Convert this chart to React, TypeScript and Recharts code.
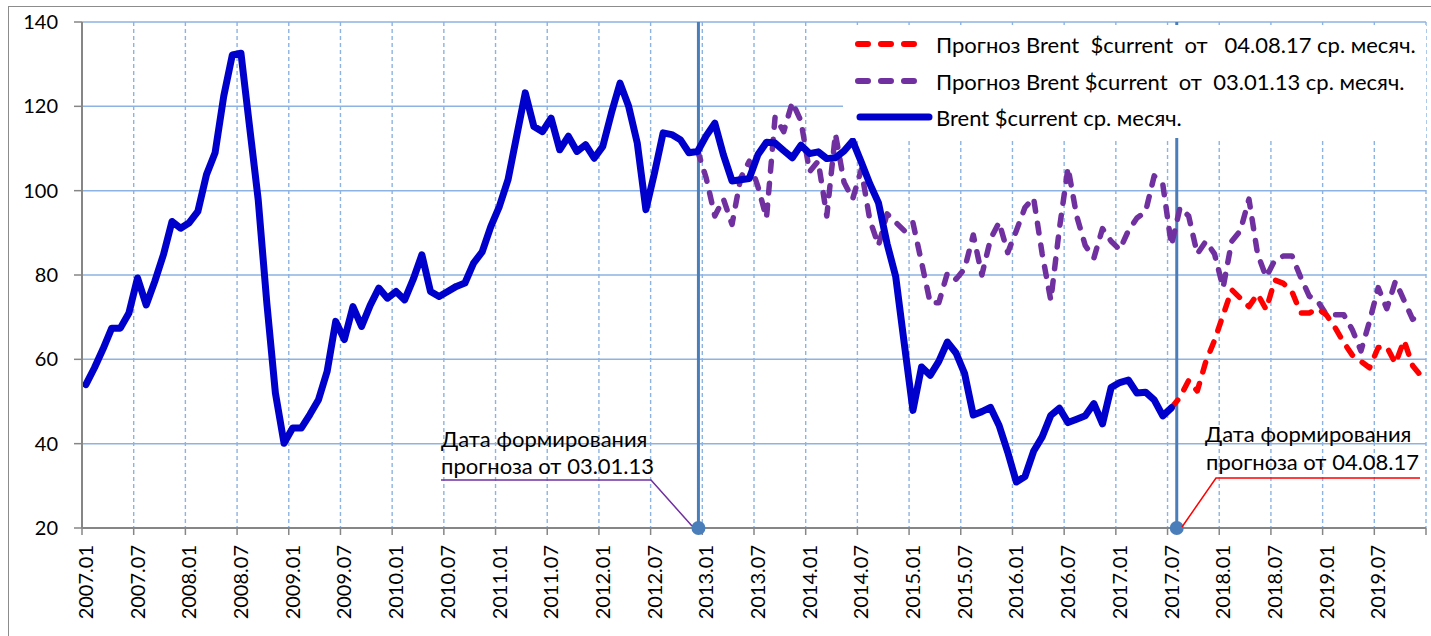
import React from 'react';
import { LineChart, Line, XAxis, YAxis, CartesianGrid, ReferenceLine, ReferenceDot } from 'recharts';

// Tick labels on the month axis (every 6 months; last gridline 2020.01 unlabeled)
const tickLabels = [
  '2007.01', '2007.07', '2008.01', '2008.07', '2009.01', '2009.07', '2010.01', '2010.07',
  '2011.01', '2011.07', '2012.01', '2012.07', '2013.01', '2013.07', '2014.01', '2014.07',
  '2015.01', '2015.07', '2016.01', '2016.07', '2017.01', '2017.07', '2018.01', '2018.07',
  '2019.01', '2019.07', '',
];
const yTicks = [20, 40, 60, 80, 100, 120, 140];

// Brent $current monthly average, 2007.01 .. 2017.07
const brentActual = [
  54.0, 58.0, 62.5, 67.4, 67.4, 71.0, 79.3, 72.9, 78.5, 84.8, 92.7, 91.1,
  92.4, 95.1, 103.8, 109.0, 122.4, 132.2, 132.6, 115.2, 97.9, 73.4, 52.0, 40.1,
  43.7, 43.7, 46.9, 50.4, 57.1, 69.0, 64.7, 72.5, 67.8, 72.8, 76.9, 74.5,
  76.1, 74.1, 79.0, 84.8, 76.1, 74.9, 76.1, 77.3, 78.1, 82.8, 85.5, 91.5,
  96.3, 102.6, 112.9, 123.2, 115.2, 114.0, 117.2, 109.7, 112.9, 109.3, 110.9, 107.7,
  110.5, 118.4, 125.5, 120.0, 111.3, 95.5, 104.2, 113.7, 113.3, 112.1, 109.0, 109.3,
  113.0, 116.0, 108.5, 102.3, 102.6, 102.9, 108.5, 111.5, 111.3, 109.5, 107.8, 110.8,
  108.8, 109.2, 107.6, 107.8, 109.4, 111.8, 106.8, 101.6, 97.1, 87.4, 79.6, 63.6,
  47.9, 58.2, 56.2, 59.5, 64.1, 61.5, 56.6, 46.8, 47.6, 48.6, 44.3, 38.0,
  30.9, 32.2, 38.2, 41.6, 46.7, 48.4, 45.0, 45.8, 46.6, 49.5, 44.7, 53.3,
  54.5, 55.1, 52.0, 52.2, 50.4, 46.6, 48.5,
];

// Forecast from 03.01.13, starting 2012.12
const forecast13Start = 71;
const forecast13 = [
  109.5, 103.0, 94.0, 98.0, 92.0, 103.0, 107.0, 101.0, 93.5, 117.5, 114.0, 121.0,
  116.5, 104.5, 107.0, 94.0, 113.5, 102.0, 98.0, 105.0, 93.0, 87.0, 94.5, 92.5,
  90.5, 92.4, 83.0, 73.4, 73.4, 80.5, 79.0, 81.5, 89.5, 80.0, 88.5, 92.5,
  85.3, 90.5, 96.0, 98.3, 85.0, 74.0, 91.0, 105.5, 94.0, 87.0, 84.0, 91.0,
  88.0, 86.0, 90.5, 93.5, 95.0, 103.5, 101.5, 87.0, 96.0, 94.0, 85.0, 88.0,
  85.0, 77.0, 88.0, 90.5, 98.0, 85.0, 79.5, 83.5, 84.5, 84.5, 79.5, 75.0,
  73.7, 70.6, 70.6, 70.6, 67.0, 62.0, 69.0, 77.0, 72.0, 78.5, 74.0, 69.5,
  70.6,
];

// Forecast from 04.08.17, starting 2017.07
const forecast17Start = 126;
const forecast17 = [
  48.5, 51.0, 55.0, 52.5, 59.5, 64.5, 70.5, 76.5, 74.5, 72.5, 75.5, 71.8,
  78.8, 78.0, 76.0, 71.0, 71.0, 72.0, 70.5, 67.5, 64.0, 61.0, 59.5, 58.0,
  62.8, 63.0, 59.0, 64.5, 58.5, 56.0,
];

const MONTHS = 156;
const MID = 0.45; // values sit mid-month on the date axis

const data = Array.from({ length: MONTHS }, (_, i) => ({
  x: i + MID,
  brent: i < brentActual.length ? brentActual[i] : null,
  f13: i >= forecast13Start && i - forecast13Start < forecast13.length ? forecast13[i - forecast13Start] : null,
  f17: i >= forecast17Start && i - forecast17Start < forecast17.length ? forecast17[i - forecast17Start] : null,
}));

const xTicks = tickLabels.map((_, k) => k * 6);

const FONT = 'Lato, "Open Sans", sans-serif';
const BLUE = '#0000CC';
const PURPLE = '#7030A0';
const RED = '#FF0000';
const REF = '#4A7EBB';
const GRID = '#8DB3E2';
const AXIS = '#868686';

const XTick = (props: any) => {
  const { x, y, payload } = props;
  const label = tickLabels[Math.round(payload.value / 6)] || '';
  return (
    <text
      x={x + 11}
      y={y + 8}
      transform={`rotate(-90, ${x + 11}, ${y + 8})`}
      textAnchor="end"
      fontFamily={FONT}
      fontSize={20}
      fill="#000"
    >
      {label}
    </text>
  );
};

export default function App() {
  return (
    <div style={{ position: 'absolute', left: 0, top: 0, width: 1431, height: 636, background: '#fff', overflow: 'hidden' }}>
      <div style={{ position: 'absolute', left: 8, top: 6, width: 1440, height: 660, borderLeft: '1px solid #8c8c8c', borderTop: '1px solid #8c8c8c' }} />
      <div style={{ position: 'absolute', left: 0, top: 0 }}>
        <LineChart width={1431} height={636} data={data} margin={{ top: 22, right: 5, left: 0, bottom: 0 }}>
          <CartesianGrid vertical={false} stroke={GRID} strokeWidth={1.5} />
          <CartesianGrid horizontal={false} stroke={GRID} strokeWidth={1.4} strokeDasharray="4 3" />
          <XAxis
            dataKey="x"
            type="number"
            domain={[0, MONTHS]}
            ticks={xTicks}
            interval={0}
            height={108}
            axisLine={{ stroke: AXIS, strokeWidth: 2 }}
            tickLine={{ stroke: AXIS, strokeWidth: 1.5 }}
            tickSize={7}
            tick={<XTick />}
            allowDataOverflow
          />
          <YAxis
            type="number"
            domain={[20, 140]}
            ticks={yTicks}
            width={82}
            axisLine={{ stroke: AXIS, strokeWidth: 2 }}
            tickLine={{ stroke: AXIS, strokeWidth: 1.5 }}
            tickSize={8}
            tickMargin={16}
            tick={{ fill: '#000', fontSize: 20, fontFamily: FONT }}
            allowDataOverflow
          />
          <ReferenceLine x={71.55} stroke={REF} strokeWidth={3} />
          <ReferenceLine x={127.07} stroke={REF} strokeWidth={3} />
          <Line
            dataKey="f13"
            stroke={PURPLE}
            strokeWidth={5.5}
            strokeDasharray="10 12"
            strokeLinecap="round"
            strokeLinejoin="round"
            dot={false}
            isAnimationActive={false}
          />
          <Line
            dataKey="f17"
            stroke={RED}
            strokeWidth={5.5}
            strokeDasharray="10 12"
            strokeLinecap="round"
            strokeLinejoin="round"
            dot={false}
            isAnimationActive={false}
          />
          <Line
            dataKey="brent"
            stroke={BLUE}
            strokeWidth={7}
            strokeLinecap="round"
            strokeLinejoin="round"
            dot={false}
            isAnimationActive={false}
          />
          <ReferenceDot x={71.55} y={20} r={7} fill={REF} stroke="none" ifOverflow="visible" />
          <ReferenceDot x={127.07} y={20} r={7} fill={REF} stroke="none" ifOverflow="visible" />
        </LineChart>
      </div>
      {/* Annotations */}
      <svg width={1431} height={636} style={{ position: 'absolute', left: 0, top: 0, pointerEvents: 'none' }}>
        <polyline points="692,526 651,480 441,480" fill="none" stroke={PURPLE} strokeWidth={1.5} />
        <text x={441} y={447} fontFamily={FONT} fontSize={22} fill="#000">Дата формирования</text>
        <text x={441} y={474} fontFamily={FONT} fontSize={22} fill="#000">прогноза от 03.01.13</text>
        <polyline points="1182,527 1216,478 1420,478" fill="none" stroke={RED} strokeWidth={1.5} />
        <text x={1205} y={442} fontFamily={FONT} fontSize={22} fill="#000">Дата формирования</text>
        <text x={1206} y={470} fontFamily={FONT} fontSize={22} fill="#000">прогноза от 04.08.17</text>
      </svg>
      {/* Legend */}
      <div style={{ position: 'absolute', left: 843, top: 25, width: 583, height: 113, background: '#fff' }}>
        <svg width={583} height={113}>
          <line x1={15} x2={79} y1={19} y2={19} stroke={RED} strokeWidth={6} strokeDasharray="10 13" strokeLinecap="round" />
          <text x={93} y={19} dominantBaseline="central" fontFamily={FONT} fontSize={22} fill="#000" style={{ whiteSpace: 'pre' }}>
            {'Прогноз Brent  $current  от   04.08.17 ср. месяч.'}
          </text>
          <line x1={15} x2={79} y1={56} y2={56} stroke={PURPLE} strokeWidth={6} strokeDasharray="10 13" strokeLinecap="round" />
          <text x={93} y={56} dominantBaseline="central" fontFamily={FONT} fontSize={22} fill="#000" style={{ whiteSpace: 'pre' }}>
            {'Прогноз Brent $current  от  03.01.13 ср. месяч.'}
          </text>
          <line x1={17} x2={86} y1={92} y2={92} stroke={BLUE} strokeWidth={7} strokeLinecap="round" />
          <text x={93} y={92} dominantBaseline="central" fontFamily={FONT} fontSize={22} fill="#000" style={{ whiteSpace: 'pre' }}>
            {'Brent $current ср. месяч.'}
          </text>
        </svg>
      </div>
    </div>
  );
}
